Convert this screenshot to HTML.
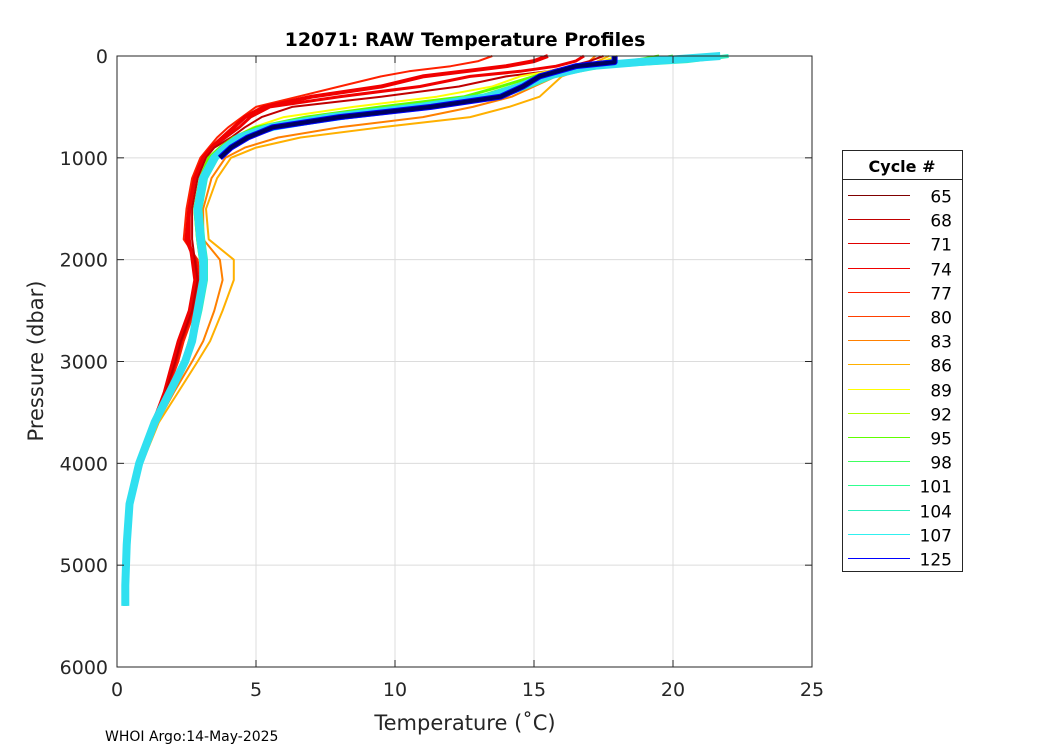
<!DOCTYPE html>
<html><head><meta charset="utf-8"><style>
body{margin:0;background:#fff;}
svg text{font-family:"DejaVu Sans","Liberation Sans",sans-serif;}
</style></head><body>
<svg id="chart" width="1050" height="750" xmlns="http://www.w3.org/2000/svg">
<rect width="1050" height="750" fill="#fff"/>
<g id="grid"></g>
<g id="series"></g>
<rect x="117" y="56" width="695" height="611" fill="none" stroke="#262626" stroke-width="1"/>
<g id="axes"></g>
<text x="465" y="46" text-anchor="middle" font-size="19" font-weight="bold" fill="#000">12071: RAW Temperature Profiles</text>
<text x="465" y="730" text-anchor="middle" font-size="21" fill="#262626">Temperature (˚C)</text>
<text transform="translate(43,361) rotate(-90)" text-anchor="middle" font-size="21" fill="#262626">Pressure (dbar)</text>
<text x="105" y="741" font-size="14" fill="#000">WHOI Argo:14-May-2025</text>
<g id="legend"></g>
</svg>
<script>
const xTicks=[0,5,10,15,20,25];
const yTicks=[0,1000,2000,3000,4000,5000,6000];
const P=[0,50,100,150,200,300,400,500,600,700,800,900,1000,1200,1500,1800,2000,2200,2500,2800,3000,3300,3600,4000,4400,4800,5200,5400];
const tRedA=[16.8,16.5,15.8,14.5,12.7,10.9,8.0,5.5,4.8,4.4,3.9,3.4,3.1,2.8,2.6,2.6,2.7,2.8,2.6,2.2,2.0,1.7,1.3,0.8,0.45,0.35,0.3,0.3];
const tRedB=[13.5,13.0,12.0,10.5,9.5,8.0,6.5,5.0,4.5,4.0,3.6,3.3,3.0,2.7,2.5,2.4,2.9,3.0,2.8,2.4,2.2,1.8,1.35,0.85,0.45,0.35,0.3,0.3];
const tRedC=[17.5,17.0,16.3,15.5,14.0,12.3,9.5,6.3,5.2,4.6,4.1,3.5,3.2,2.9,2.7,2.7,2.8,2.9,2.7,2.3,2.1,1.75,1.3,0.8,0.45,0.35,0.3,0.3];
const tRedD=[15.5,15.0,14.0,12.5,11.0,9.5,7.0,5.3,4.6,4.2,3.8,3.4,3.1,2.8,2.6,2.5,2.8,2.9,2.7,2.3,2.1,1.75,1.3,0.8,0.45,0.35,0.3,0.3];
const tOrange=[17.7,17.3,17.0,16.5,16.0,15.6,15.2,14.1,12.7,9.5,6.6,5.0,4.1,3.6,3.2,3.3,4.2,4.2,3.8,3.35,2.9,2.2,1.5,0.9,0.5,0.35,0.3,0.3];
const tOrangeB=[17.2,17.0,16.6,16.2,15.8,15.0,14.2,12.8,11.0,8.0,5.8,4.6,3.9,3.4,3.1,3.1,3.7,3.8,3.5,3.1,2.7,2.05,1.45,0.85,0.45,0.35,0.3,0.3];
const tYellow=[18.0,17.5,16.5,15.5,14.5,13.5,11.5,8.5,6.0,4.9,4.2,3.7,3.3,3.0,2.8,2.9,3.1,3.2,3.0,2.6,2.4,1.9,1.4,0.85,0.45,0.35,0.3,0.3];
const tGreen=[19.5,18.5,17.0,16.0,15.0,13.8,12.5,9.5,6.8,5.0,4.2,3.7,3.3,3.0,2.8,2.9,3.0,3.1,2.9,2.6,2.4,1.9,1.35,0.8,0.45,0.35,0.3,0.3];
const tGreenB=[20.0,19.0,17.2,16.2,15.3,14.2,13.0,10.3,7.3,5.3,4.3,3.8,3.4,3.0,2.8,2.9,3.0,3.1,2.9,2.6,2.4,1.9,1.35,0.8,0.45,0.35,0.3,0.3];
const tCyan=[21.7,19.2,17.0,16.2,15.4,14.5,13.4,10.9,7.7,5.5,4.4,3.9,3.5,3.1,2.9,3.0,3.1,3.1,2.9,2.7,2.45,1.9,1.35,0.8,0.45,0.35,0.3,0.3];
const tCyanB=[22.0,20.5,17.5,16.5,15.7,14.8,13.8,11.5,8.3,5.8,4.6,4.0,3.6,3.2,3.0,3.1,3.2,3.2,3.0,2.75,2.5,1.95,1.4,0.85,0.45,0.35,0.3,0.3];
const P125=[0,60,100,200,300,400,500,600,700,800,900,1000];
const t125=[17.9,17.9,16.5,15.2,14.6,13.8,11.3,8.0,5.6,4.7,4.1,3.7];
const legendCycles=["65","68","71","74","77","80","83","86","89","92","95","98","101","104","107","125"];
const legendColors=["#800000","#c00000","#e00000","#f00000","#ff2000","#ff4000","#ff8000","#ffb000","#ffff00","#b0ff00","#60ff00","#40ff60","#30ff90","#30f0c0","#30f0f0","#0000ff"];

const NS="http://www.w3.org/2000/svg";
const X0=117,X1=812,Y0=56,Y1=667;
const xs=v=>X0+(v-0)/(25-0)*(X1-X0);
const ys=v=>Y0+(v-0)/(6000-0)*(Y1-Y0);
function mk(tag,parent,attrs){const e=document.createElementNS(NS,tag);for(const k in attrs)e.setAttribute(k,attrs[k]);parent.appendChild(e);return e;}
const grid=document.getElementById('grid'),axes=document.getElementById('axes'),ser=document.getElementById('series'),leg=document.getElementById('legend');
xTicks.forEach(t=>{
 const g=mk('line',grid,{x1:xs(t),x2:xs(t),y1:Y0,y2:Y1,stroke:'#dcdcdc','stroke-width':1});
 
 mk('line',axes,{x1:xs(t),x2:xs(t),y1:Y1,y2:Y1-7,stroke:'#262626'});
 mk('line',axes,{x1:xs(t),x2:xs(t),y1:Y0,y2:Y0+7,stroke:'#262626'});
 const tx=mk('text',axes,{x:xs(t),y:Y1+29,'text-anchor':'middle','font-size':19,fill:'#262626'});tx.textContent=t;
 
});
yTicks.forEach(t=>{
 const g=mk('line',grid,{x1:X0,x2:X1,y1:ys(t),y2:ys(t),stroke:'#dcdcdc','stroke-width':1});
 
 mk('line',axes,{x1:X0,x2:X0+7,y1:ys(t),y2:ys(t),stroke:'#262626'});
 mk('line',axes,{x1:X1,x2:X1-7,y1:ys(t),y2:ys(t),stroke:'#262626'});
 const tx=mk('text',axes,{x:X0-9,y:ys(t)+7,'text-anchor':'end','font-size':19,fill:'#262626'});tx.textContent=t;
 
});
function prof(pr,tt,color,w,name){
 let d='';pr.forEach((p,i)=>{d+=(i?'L':'M')+xs(tt[i]).toFixed(1)+' '+ys(p).toFixed(1);});
 const e=mk('path',ser,{d:d,fill:'none',stroke:color,'stroke-width':w,'stroke-linejoin':'round'});
 
}
prof(P,tOrange,'#ffb000',2,'profile-orange');
prof(P,tOrangeB,'#ff8000',2,'profile-orange-b');
prof(P,tRedB,'#ff2000',2,'profile-red-b');
prof(P,tRedD,'#f00000',4,'profile-red-d');
prof(P,tRedA,'#f00000',3,'profile-red-a');
prof(P,tRedC,'#c00000',2,'profile-red-c');
prof(P,tYellow,'#ffff00',2,'profile-yellow');
prof(P,tGreen,'#60ff00',3,'profile-green');
prof(P,tGreenB,'#40ff60',3,'profile-green-b');
prof(P,tCyanB,'#30f0c0',4,'profile-cyan-b');
prof(P,tCyan,'#30e0f0',8,'profile-cyan');
prof(P125,t125,'#0000ff',6,'profile-125-blue');
prof(P125,t125,'#000060',4,'profile-125-dark');

mk('rect',leg,{x:842.5,y:150.5,width:120,height:421,fill:'#fff',stroke:'#262626'});
mk('line',leg,{x1:842,x2:963,y1:179.5,y2:179.5,stroke:'#262626'});
const lt=mk('text',leg,{x:902,y:172,'text-anchor':'middle','font-size':16,'font-weight':'bold',fill:'#000'});lt.textContent='Cycle #';

legendCycles.forEach((c,i)=>{
 const y=Math.round(195+i*24.2)+0.5;
 const l=mk('line',leg,{x1:848,x2:910,y1:y,y2:y,stroke:legendColors[i],'stroke-width':1});
 
 const t=mk('text',leg,{x:952,y:y+7,'text-anchor':'end','font-size':17,fill:'#000'});t.textContent=c;
 
});
</script>
</body></html>
